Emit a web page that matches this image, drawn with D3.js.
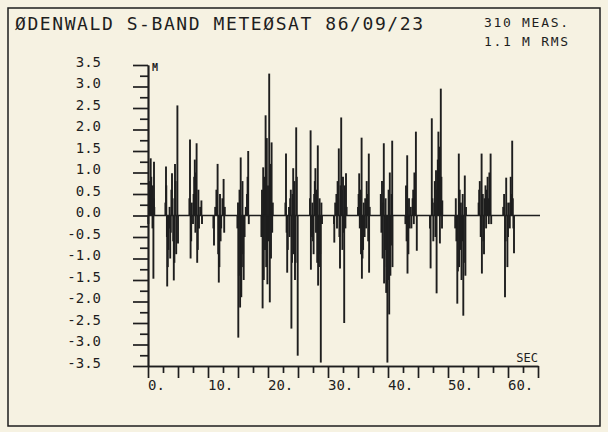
<!DOCTYPE html>
<html>
<head>
<meta charset="utf-8">
<script src="https://cdn.jsdelivr.net/npm/d3@7"></script>
<style>
  html, body { margin: 0; padding: 0; background: #f6f2e2; }
  svg { display: block; }
  text { font-family: "DejaVu Sans Mono", monospace; fill: #1e1e1e; }
</style>
</head>
<body>
<div id="chart"></div>
<script>
const title = "ØDENWALD S-BAND METEØSAT 86/09/23";
const infoLines = ["310 MEAS.", "1.1 M RMS"];
const yTickValues = [3.5, 3.0, 2.5, 2.0, 1.5, 1.0, 0.5, 0.0, -0.5, -1.0, -1.5, -2.0, -2.5, -3.0, -3.5];
const yTickLabels = ["3.5", "3.0", "2.5", "2.0", "1.5", "1.0", "0.5", "0.0", "-0.5", "-1.0", "-1.5", "-2.0", "-2.5", "-3.0", "-3.5"];
const xTickValues = [0, 10, 20, 30, 40, 50, 60];
const xTickLabels = ["0.", "10.", "20.", "30.", "40.", "50.", "60."];

// residuals: [seconds, metres]
const measurements = [
  [0.05, -0.2], [0.15, 0.3], [0.25, 0.6], [0.35, 0.8], [0.45, 1.33], [0.55, 0.9], [0.65, 0.5],
  [0.75, -0.3], [0.8, 0.7], [0.9, -1.47], [0.95, 0.4], [1.0, 1.25], [1.05, 0.2],

  [2.9, 0.3], [3.0, 1.14], [3.05, 0.7], [3.15, -0.5], [3.2, -1.65], [3.3, -1.2], [3.4, -0.8],
  [3.5, -0.3], [3.6, 0.2], [3.7, -1.0], [3.8, -0.4], [3.9, 0.6], [4.0, 0.98], [4.1, 0.4],
  [4.2, -0.6], [4.3, -1.51], [4.4, -1.1], [4.5, 1.2], [4.6, 0.8], [4.7, -0.9], [4.9, 2.56], [5.0, -0.65],

  [6.9, 0.4], [7.0, 1.77], [7.1, -1.0], [7.2, -0.6], [7.3, 0.3], [7.5, -0.2], [7.6, 0.5],
  [7.7, 0.9], [7.8, 1.3], [7.9, -0.4], [8.0, 1.0], [8.1, 1.68], [8.2, -1.1], [8.3, -0.8],
  [8.4, 0.6], [8.5, -0.3], [8.7, 0.2], [8.9, 0.35], [9.0, -0.2],

  [10.9, -0.3], [11.0, -0.7], [11.2, 0.2], [11.4, 0.6], [11.5, 0.3], [11.6, 1.2], [11.7, -0.9],
  [11.8, -1.56], [11.9, -1.2], [12.0, 0.5], [12.1, -0.6], [12.2, -0.3], [12.4, 0.4], [12.6, 0.85],
  [12.7, -0.4], [12.8, 0.2],

  [14.9, -0.3], [15.0, 0.3], [15.05, -2.84], [15.15, -1.4], [15.25, 0.6], [15.35, -2.14], [15.45, 1.35],
  [15.55, -1.9], [15.65, -1.2], [15.75, 0.8], [15.85, -0.9], [15.95, -1.5], [16.1, -0.5], [16.3, 0.2],
  [16.5, 0.5], [16.6, 0.9], [16.7, 1.5], [16.8, -0.2],

  [18.9, -0.5], [19.0, 0.6], [19.1, -2.16], [19.2, 1.12], [19.3, -1.5], [19.4, 0.9], [19.5, -0.8],
  [19.6, 2.33], [19.7, -1.2], [19.8, 1.8], [19.9, -1.6], [20.0, 0.7], [20.1, -0.6], [20.2, 3.3],
  [20.3, -2.02], [20.4, 1.2], [20.5, -1.0], [20.6, 1.7], [20.7, -0.4], [20.8, 0.3],

  [22.9, 0.3], [23.0, 1.44], [23.1, -0.4], [23.2, -1.33], [23.3, -0.8], [23.5, 0.2], [23.6, -0.5],
  [23.7, 0.4], [23.8, 0.6], [23.9, -2.63], [24.0, -1.1], [24.1, 0.5], [24.2, 1.1], [24.3, -0.9],
  [24.4, 0.8], [24.5, -1.5], [24.6, -1.1], [24.7, 2.05], [24.8, 0.9], [24.95, -3.26],

  [27.0, 0.4], [27.1, 1.98], [27.15, -1.26], [27.3, -0.5], [27.4, 0.3], [27.5, -0.6], [27.6, -0.9],
  [27.7, 0.5], [27.8, 0.8], [27.9, 1.1], [28.0, -0.4], [28.1, 0.6], [28.2, -1.1], [28.3, 1.63],
  [28.35, -1.63], [28.5, -1.2], [28.6, 0.4], [28.7, -0.9], [28.8, -3.42], [28.9, 0.3], [29.0, -0.2],

  [31.0, -0.2], [31.05, -0.63], [31.2, 0.3], [31.4, 0.5], [31.5, -0.3], [31.6, 0.8], [31.7, 0.4],
  [31.8, 1.56], [31.9, -0.5], [32.0, -1.23], [32.1, 0.7], [32.2, 2.28], [32.3, 0.6], [32.4, -0.8],
  [32.5, 0.9], [32.6, -0.4], [32.7, -2.5], [32.8, 0.7], [32.9, -0.3], [33.0, 0.98], [33.1, 0.2],

  [35.0, 0.2], [35.1, 0.5], [35.2, 0.98], [35.3, -0.3], [35.4, 0.6], [35.5, -0.9], [35.6, 1.81],
  [35.65, -1.47], [35.75, -1.0], [35.85, -0.8], [35.95, 0.3], [36.1, -0.5], [36.2, 0.4], [36.35, -0.3],
  [36.45, 0.8], [36.6, 0.5], [36.7, -0.6], [36.8, 1.44], [36.85, -1.33], [36.95, 0.2],

  [38.8, 0.5], [38.9, -0.4], [39.0, 0.8], [39.1, -1.0], [39.2, 0.3], [39.3, 1.68], [39.35, -1.58],
  [39.5, -0.8], [39.6, 0.4], [39.7, -1.8], [39.8, -1.2], [39.9, -3.42], [40.0, -1.5], [40.1, 0.6],
  [40.2, -2.3], [40.3, 1.0], [40.4, -1.4], [40.5, -0.7], [40.6, 0.5], [40.7, 1.74], [40.75, -1.2],

  [42.9, -0.2], [43.0, 0.7], [43.1, -0.6], [43.2, 1.4], [43.25, -1.35], [43.4, -0.9], [43.5, 0.4],
  [43.6, -0.3], [43.8, 0.2], [43.9, -0.3], [44.1, 0.4], [44.2, 0.6], [44.3, -0.2], [44.4, 1.0],
  [44.5, 0.5], [44.65, 1.95], [44.8, -0.82],

  [47.0, -0.3], [47.1, -1.23], [47.3, 2.26], [47.4, 0.4], [47.55, -0.6], [47.7, 0.3], [47.8, 0.8],
  [47.9, -0.5], [48.0, 1.05], [48.1, -1.81], [48.2, 0.6], [48.3, 1.3], [48.4, 1.95], [48.5, 1.1],
  [48.6, 1.6], [48.65, -0.65], [48.8, 2.95], [48.9, 0.9], [49.0, -0.3], [49.05, 0.35],

  [51.2, -0.3], [51.3, 0.4], [51.4, -0.6], [51.55, -2.05], [51.65, -1.3], [51.8, 1.44], [51.85, -1.2],
  [51.95, 0.6], [52.05, -0.8], [52.15, 0.3], [52.25, -1.5], [52.35, -0.6], [52.45, 0.5], [52.55, -2.33],
  [52.65, -1.1], [52.8, 0.93], [52.9, -1.4], [53.0, 0.2],

  [55.1, 0.3], [55.2, 0.6], [55.3, 0.8], [55.45, -0.5], [55.6, 1.44], [55.65, -1.35], [55.8, 0.5],
  [55.9, -0.6], [56.0, -0.9], [56.1, 0.4], [56.25, 0.7], [56.35, -0.3], [56.45, 0.6], [56.6, 0.9],
  [56.7, 0.4], [56.8, -0.2], [56.9, 1.0], [57.0, 0.7], [57.1, 1.44], [57.2, -0.2],

  [59.2, 0.2], [59.35, 0.5], [59.5, -1.9], [59.6, -0.6], [59.7, 0.88], [59.8, 0.3], [59.9, -1.2],
  [60.0, -0.5], [60.15, 0.3], [60.3, -0.3], [60.45, 0.9], [60.55, 0.5], [60.7, 1.74], [60.8, 0.4],
  [60.9, -0.3], [61.0, -0.88]
];

const width = 608, height = 432;
const ink = "#1e1e1e";
const plot = { left: 148, right: 538, top: 65, bottom: 366 };

const svg = d3.select("#chart").append("svg")
    .attr("width", width)
    .attr("height", height);

// page frame
svg.append("rect")
    .attr("x", 8).attr("y", 8)
    .attr("width", 592).attr("height", 418)
    .attr("fill", "none")
    .attr("stroke", ink)
    .attr("stroke-width", 1.5);

const x = d3.scaleLinear().domain([0, 65]).range([plot.left, plot.right]);
const y = d3.scaleLinear().domain([-3.5, 3.5]).range([plot.bottom, plot.top]);

// header texts
svg.append("text")
    .attr("x", 15).attr("y", 30)
    .attr("textLength", 408)
    .attr("lengthAdjust", "spacing")
    .style("font-size", "18px")
    .text(title);

svg.selectAll(".info")
    .data(infoLines)
    .join("text")
    .attr("class", "info")
    .attr("x", 484)
    .attr("y", (d, i) => 27 + i * 19)
    .attr("textLength", 84)
    .attr("lengthAdjust", "spacing")
    .style("font-size", "13px")
    .text(d => d);

// measurement bars
svg.append("g")
    .selectAll("line")
    .data(measurements)
    .join("line")
    .attr("x1", d => x(d[0]))
    .attr("x2", d => x(d[0]))
    .attr("y1", y(0))
    .attr("y2", d => y(d[1]))
    .attr("stroke", ink)
    .attr("stroke-width", 1.9);

// zero line
svg.append("line")
    .attr("x1", x(0)).attr("x2", plot.right + 2)
    .attr("y1", y(0)).attr("y2", y(0))
    .attr("stroke", ink)
    .attr("stroke-width", 1.6);

function styleAxis(g) {
    g.selectAll("path, line").attr("stroke", ink).attr("stroke-width", 1.7);
    g.selectAll("text").attr("fill", ink)
        .style("font-family", "DejaVu Sans Mono, monospace");
}

// y axis: long ticks on labels, short ones halfway
svg.append("g")
    .attr("transform", `translate(${plot.left},0)`)
    .call(d3.axisLeft(y).tickValues(d3.range(-3.25, 3.5, 0.5)).tickSize(8).tickFormat("").tickSizeOuter(0))
    .call(styleAxis);

svg.append("g")
    .attr("transform", `translate(${plot.left},0)`)
    .call(d3.axisLeft(y)
        .tickValues(yTickValues)
        .tickFormat((d, i) => yTickLabels[i])
        .tickSize(15)
        .tickPadding(32)
        .tickSizeOuter(0))
    .call(styleAxis)
    .call(g => g.selectAll("text").style("font-size", "14px").attr("dy", "0.1em"));

// x axis
svg.append("g")
    .attr("transform", `translate(0,${plot.bottom})`)
    .call(d3.axisBottom(x).tickValues(d3.range(2.5, 65, 5)).tickSize(7).tickFormat("").tickSizeOuter(0))
    .call(styleAxis);

svg.append("g")
    .attr("transform", `translate(0,${plot.bottom})`)
    .call(d3.axisBottom(x).tickValues(d3.range(0, 65.1, 5)).tickSize(12).tickFormat("").tickSizeOuter(0))
    .call(styleAxis);

svg.selectAll(".xlabel")
    .data(xTickValues)
    .join("text")
    .attr("class", "xlabel")
    .attr("x", d => x(d))
    .attr("y", plot.bottom + 24)
    .style("font-size", "14px")
    .text((d, i) => xTickLabels[i]);

// unit labels
svg.append("text")
    .attr("x", plot.left + 4).attr("y", plot.top + 6)
    .style("font-size", "10px")
    .style("font-weight", "bold")
    .text("M");

svg.append("text")
    .attr("x", plot.right).attr("y", plot.bottom - 4)
    .attr("text-anchor", "end")
    .style("font-size", "12px")
    .text("SEC");
</script>
</body>
</html>
